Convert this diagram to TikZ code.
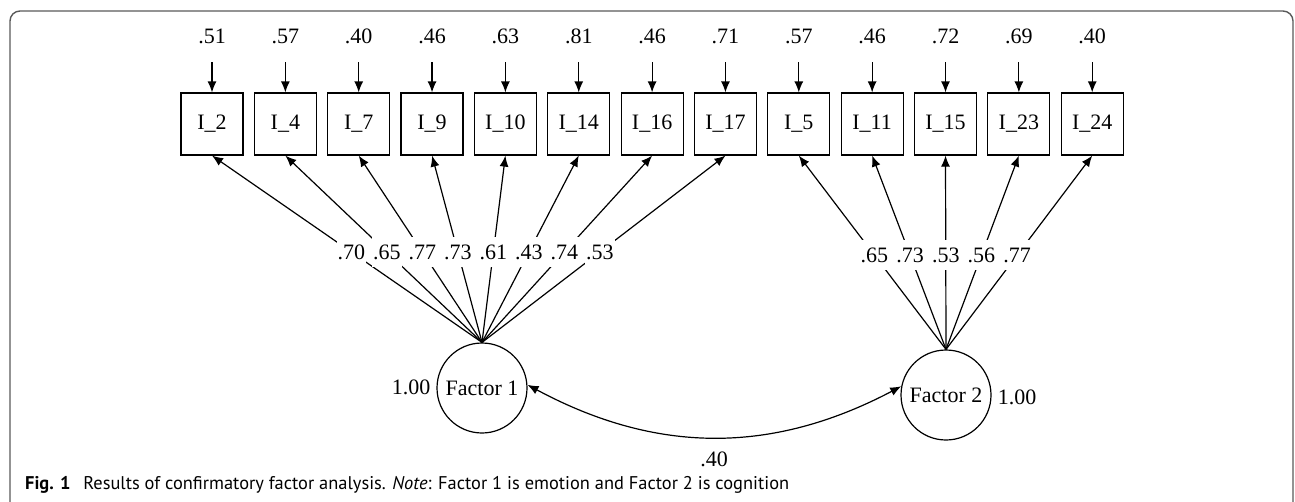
\documentclass[tikz,border=0pt]{standalone}
\usepackage{fontspec}
\setmainfont{Liberation Serif}
\newfontfamily\capfont{PT Sans}
\usetikzlibrary{arrows.meta}
\begin{document}
\begin{tikzpicture}[x=1pt,y=1pt,
  item/.style={draw, line width=1.2pt, minimum width=62pt, minimum height=62pt, inner sep=0pt, font=\fontsize{22}{24}\selectfont},
  num/.style={inner sep=0pt, font=\fontsize{22}{24}\selectfont},
  fac/.style={draw, circle, line width=1.2pt, minimum size=90pt, inner sep=0pt, font=\fontsize{22}{24}\selectfont},
  arr/.style={line width=1.2pt, -{Latex[length=11pt,width=9pt]}},
  lab/.style={fill=white, inner xsep=1pt, inner ysep=8pt, font=\fontsize{22}{24}\selectfont},
  frame/.style={line width=1.4pt, draw=black!65, rounded corners=10pt},
]
\useasboundingbox (0,0) rectangle (1295,-501);
\draw[frame] (10,-502) -- (10,-11) -- (1293,-11) -- (1293,-502);

\foreach \n/\e [count=\k from 0] in {2/.51,4/.57,7/.40,9/.46,10/.63,14/.81,16/.46,17/.71,5/.57,11/.46,15/.72,23/.69,24/.40} {
  \node[item] (i\n) at ({212+73.35*\k},-124) {I\_\n};
  \node[num] (e\n) at ({212+73.35*\k},-36) {\e};
  \coordinate (t\n) at ({212+73.35*\k},-62);
  \draw[arr] (t\n) -- (i\n.north);
}

\node[fac] (f1) at (482,-388) {Factor 1};
\node[fac] (f2) at (946,-395) {Factor 2};
\node[num] (v1) at (411,-387) {1.00};
\node[num] (v2) at (1017,-397) {1.00};

\foreach \n in {2,4,7,9,10,14,16,17} \draw[arr] (f1.north) -- (i\n.south);
\foreach \n in {5,11,15,23,24} \draw[arr] (f2.north) -- (i\n.south);
\foreach \n/\l in {2/.70,4/.65,7/.77,9/.73,10/.61,14/.43,16/.74,17/.53}
  \path (f1.north) -- node[lab, pos=0.484] {\l} (i\n.south);
\foreach \n/\l in {5/.65,11/.73,15/.53,23/.56,24/.77}
  \path (f2.north) -- node[lab, pos=0.487] {\l} (i\n.south);

\draw[line width=1.2pt, {Latex[length=11pt,width=9pt]}-{Latex[length=11pt,width=9pt]}]
  (f1.4) to[bend right=28] node[num, pos=0.5, below=14pt] (cov) {.40} (f2.169);

\node[anchor=base west, inner sep=0pt, font=\capfont\fontsize{18.4}{20}\selectfont] (cap) at (25,-489)
  {\textbf{Fig. 1}\hspace{0.7em}Results of confirmatory factor analysis. \textit{Note}: Factor 1 is emotion and Factor 2 is cognition};
\end{tikzpicture}
\end{document}
